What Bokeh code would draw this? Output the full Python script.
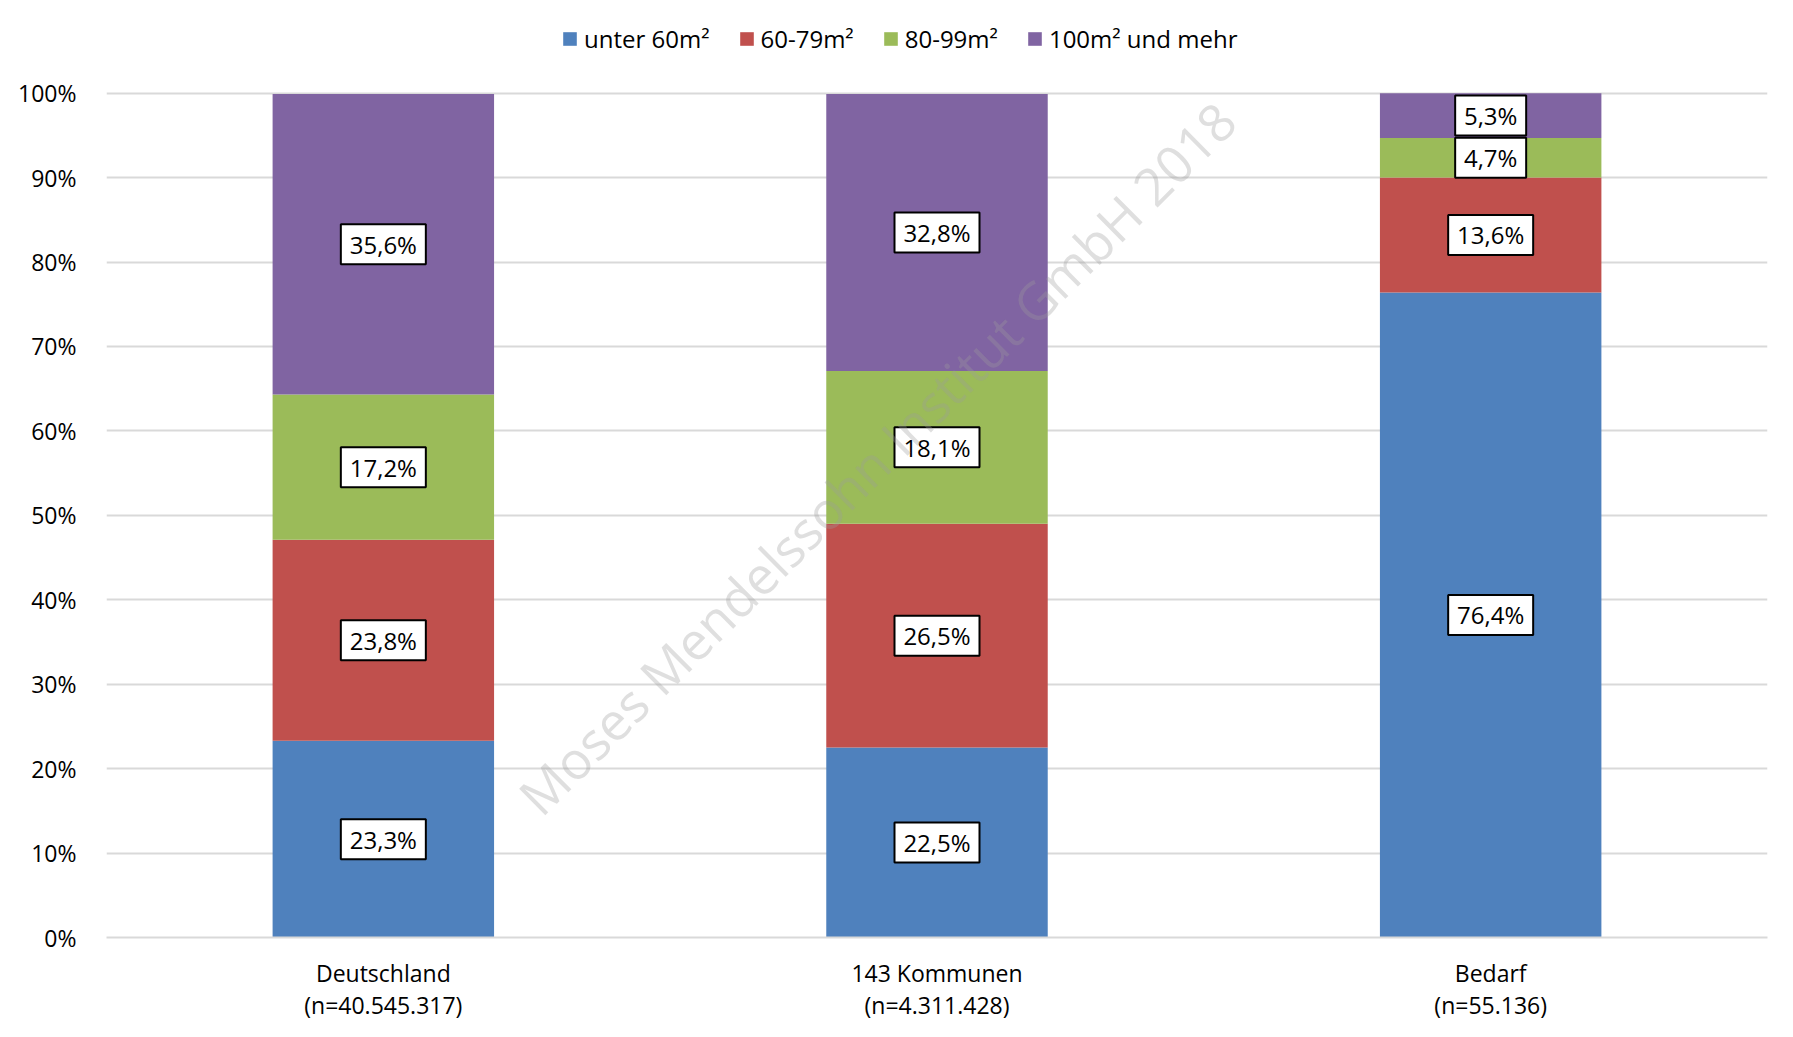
from bokeh.plotting import figure
from bokeh.models import (ColumnDataSource, Range1d, FixedTicker,
                          Legend, LegendItem, Label)
from bokeh.core.properties import value
from bokeh.embed import file_html
from bokeh.resources import INLINE

# Wohnungsgrößen: Anteile je Gruppe (in %)
groups = ["Deutschland", "143 Kommunen", "Bedarf"]
group_n = ["(n=40.545.317)", "(n=4.311.428)", "(n=55.136)"]
series = ["unter 60m²", "60-79m²", "80-99m²", "100m² und mehr"]
unter_60 = [23.3, 22.5, 76.4]
m60_79 = [23.8, 26.5, 13.6]
m80_99 = [17.2, 18.1, 4.7]
m100_plus = [35.6, 32.8, 5.3]
y_ticks = [0, 10, 20, 30, 40, 50, 60, 70, 80, 90, 100]

colors = ["#4F81BD", "#C0504D", "#9BBB59", "#8064A2"]
FONT = "Open Sans"

values = [unter_60, m60_79, m80_99, m100_plus]
xs = [i + 0.5 for i in range(len(groups))]

# Zeichenfläche reicht bis zum oberen Rand; Platz über 100 % trägt die Legende
p = figure(width=1793, height=1037, output_backend="svg", toolbar_location=None,
           x_range=Range1d(0, len(groups)), y_range=Range1d(0, 110.97),
           min_border_left=106, min_border_right=26, min_border_top=0,
           min_border_bottom=100)
p.outline_line_color = None
p.background_fill_color = "white"
p.border_fill_color = "white"

# gestapelte Balken
bottoms = [0.0] * len(groups)
renderers = []
label_x, label_y, label_t = [], [], []
for vals, col in zip(values, colors):
    tops = [b + v for b, v in zip(bottoms, vals)]
    src = ColumnDataSource(dict(x=xs, bottom=bottoms, top=tops))
    r = p.vbar(x="x", bottom="bottom", top="top", width=0.40, source=src,
               fill_color=col, line_color=None)
    renderers.append(r)
    for x, b, v in zip(xs, bottoms, vals):
        label_x.append(x)
        label_y.append(b + v / 2)
        label_t.append(f"{v:.1f}%".replace(".", ","))
    bottoms = tops

# Wertbeschriftungen in weißen Kästchen
lab_src = ColumnDataSource(dict(x=label_x, y=label_y, t=label_t,
                                w=[14 * len(t) + 15 for t in label_t]))
p.rect(x="x", y="y", width="w", height=40, width_units="screen",
       height_units="screen", source=lab_src, fill_color="white",
       line_color="black", line_width=2)
p.text(x="x", y="y", text="t", source=lab_src, text_align="center",
       text_baseline="middle", text_font=value(FONT), text_font_size="24px",
       text_color="black")

# Wasserzeichen
wm = Label(x=1.391, y=56.85, text="Moses Mendelssohn Institut GmbH 2018",
           angle=44.8, angle_units="deg", text_align="center",
           text_baseline="middle", text_font=FONT, text_font_size="52px",
           text_color="#9a9a9a", text_alpha=0.32)
p.add_layout(wm)

# Achsen
p.xgrid.grid_line_color = None
p.ygrid.grid_line_color = "#d9d9d9"
p.ygrid.grid_line_width = 2
p.ygrid.ticker = FixedTicker(ticks=y_ticks)

p.yaxis.ticker = FixedTicker(ticks=y_ticks)
p.yaxis.major_label_overrides = {t: f"{t}%" for t in y_ticks}
p.yaxis.axis_line_color = None
p.yaxis.major_tick_line_color = None
p.yaxis.minor_tick_line_color = None
p.yaxis.major_label_standoff = 24
p.yaxis.major_label_text_font = FONT
p.yaxis.major_label_text_font_size = "23px"
p.yaxis.major_label_text_color = "black"

p.xaxis.ticker = FixedTicker(ticks=xs)
p.xaxis.major_label_overrides = {x: f"{g}\n{n}" for x, g, n in zip(xs, groups, group_n)}
p.xaxis.axis_line_color = "#d9d9d9"
p.xaxis.axis_line_width = 2
p.xaxis.major_tick_line_color = None
p.xaxis.minor_tick_line_color = None
p.xaxis.major_label_standoff = 13
p.xaxis.major_label_text_font = FONT
p.xaxis.major_label_text_font_size = "23px"
p.xaxis.major_label_text_line_height = 1.0
p.xaxis.major_label_text_color = "black"

# Legende oberhalb der Balken
legend = Legend(items=[LegendItem(label=s, renderers=[r]) for s, r in zip(series, renderers)],
                orientation="horizontal", location=(455, 882),
                glyph_width=17, glyph_height=17, label_standoff=6, spacing=28,
                padding=0, margin=0, border_line_color=None,
                background_fill_alpha=0,
                label_text_font=FONT, label_text_font_size="24px",
                label_text_color="black")
p.add_layout(legend, "center")

open("out.html", "w").write(file_html(p, INLINE))
